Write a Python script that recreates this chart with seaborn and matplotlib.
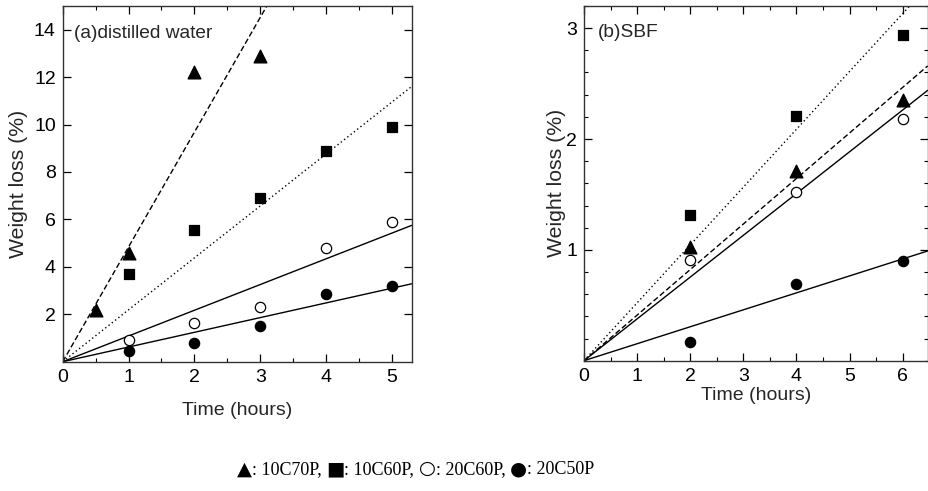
import matplotlib
matplotlib.use("Agg")
import matplotlib.pyplot as plt
import seaborn as sns
import numpy as np
import pandas as pd
from matplotlib.ticker import MultipleLocator, NullLocator
from matplotlib.offsetbox import TextArea, HPacker, AnchoredOffsetbox

sns.set_theme(style="ticks")
plt.rcParams['font.family'] = ['Liberation Sans', 'DejaVu Sans']

series = ["10C70P", "10C60P", "20C60P", "20C50P"]
legend_symbols = ["▲", "■", "○", "●"]

# Panel (a) distilled water
a_t_10C70P = [0.5, 1, 2, 3]
a_w_10C70P = [2.2, 4.6, 12.2, 12.9]
a_t_10C60P = [1, 2, 3, 4, 5]
a_w_10C60P = [3.7, 5.55, 6.9, 8.9, 9.9]
a_t_20C60P = [1, 2, 3, 4, 5]
a_w_20C60P = [0.9, 1.65, 2.3, 4.8, 5.9]
a_t_20C50P = [1, 2, 3, 4, 5]
a_w_20C50P = [0.45, 0.8, 1.5, 2.85, 3.2]
a_slopes = [4.84, 2.19, 1.085, 0.62]

# Panel (b) SBF
b_t = [2, 4, 6]
b_w_10C70P = [1.03, 1.71, 2.35]
b_w_10C60P = [1.31, 2.21, 2.94]
b_w_20C60P = [0.91, 1.52, 2.18]
b_w_20C50P = [0.17, 0.69, 0.90]
b_slopes = [0.411, 0.522, 0.377, 0.153]

markers = {"10C70P": "^", "10C60P": "s", "20C60P": "o", "20C50P": "o"}
faces = {"10C70P": "black", "10C60P": "black", "20C60P": "white", "20C50P": "black"}
sizes = {"10C70P": 85, "10C60P": 60, "20C60P": 55, "20C50P": 55}
lstyles = {"10C70P": (0, (4, 2)), "10C60P": (0, (1, 2)), "20C60P": "-", "20C50P": "-"}

fig = plt.figure(figsize=(9.29, 4.91), dpi=100)
axA = fig.add_axes([0.0675, 0.2633, 0.3757, 0.7245])
axB = fig.add_axes([0.6286, 0.2654, 0.3700, 0.7224])

def draw(ax, data, slopes, xmax, ymax, xpad, ypad):
    xs = np.linspace(0, xmax, 50)
    for name, slope in zip(series, slopes):
        df_l = pd.DataFrame({"t": xs, "w": slope * xs})
        sns.lineplot(data=df_l, x="t", y="w", ax=ax, color="black",
                     linewidth=1.0, linestyle=lstyles[name], zorder=2)
    for name in series:
        t, w = data[name]
        df = pd.DataFrame({"t": t, "w": w})
        sns.scatterplot(data=df, x="t", y="w", ax=ax, marker=markers[name],
                        s=sizes[name], color=faces[name], edgecolor="black",
                        linewidth=0.9, zorder=3)
    ax.set_xlim(0, xmax)
    ax.set_ylim(0, ymax)
    ax.set_xlabel("Time (hours)", fontsize=14, labelpad=xpad)
    ax.set_ylabel("Weight loss (%)", fontsize=15.3, labelpad=ypad)
    ax.tick_params(which="both", direction="in", top=True, right=True,
                   labelsize=14, colors="black")
    ax.tick_params(which="major", length=6, width=0.9, pad=5)
    ax.tick_params(which="minor", length=3, width=0.8)
    for s in ax.spines.values():
        s.set_linewidth(1.0)
        s.set_color("#333333")

dataA = {"10C70P": (a_t_10C70P, a_w_10C70P), "10C60P": (a_t_10C60P, a_w_10C60P),
         "20C60P": (a_t_20C60P, a_w_20C60P), "20C50P": (a_t_20C50P, a_w_20C50P)}
dataB = {"10C70P": (b_t, b_w_10C70P), "10C60P": (b_t, b_w_10C60P),
         "20C60P": (b_t, b_w_20C60P), "20C50P": (b_t, b_w_20C50P)}

draw(axA, dataA, a_slopes, 5.3, 15, xpad=12, ypad=4)
axA.set_xticks([0, 1, 2, 3, 4, 5])
axA.set_yticks([2, 4, 6, 8, 10, 12, 14])
axA.xaxis.set_minor_locator(MultipleLocator(0.5))
axA.yaxis.set_minor_locator(NullLocator())
axA.text(0.032, 0.924, "(a)distilled water", transform=axA.transAxes,
         fontsize=13.8, va="center")

draw(axB, dataB, b_slopes, 6.47, 3.2, xpad=2, ypad=0)
axB.set_xticks([0, 1, 2, 3, 4, 5, 6])
axB.set_yticks([1, 2, 3])
axB.xaxis.set_minor_locator(MultipleLocator(0.5))
axB.yaxis.set_minor_locator(MultipleLocator(0.2))
axB.text(0.04, 0.924, "(b)SBF", transform=axB.transAxes,
         fontsize=13.8, va="center")

# Bottom text legend
parts = []
for i, (sym, name) in enumerate(zip(legend_symbols, series)):
    sep = ", " if i < len(series) - 1 else ""
    parts.append(TextArea(sym, textprops=dict(fontsize=14, family="DejaVu Sans",
                                              color="black")))
    parts.append(TextArea(": " + name + sep,
                          textprops=dict(fontsize=13, family="Liberation Serif",
                                         color="black")))
box = HPacker(children=parts, align="baseline", pad=0, sep=0)
anch = AnchoredOffsetbox(loc="center", child=box, frameon=False,
                         bbox_to_anchor=(0.447, 0.045),
                         bbox_transform=fig.transFigure, borderpad=0)
fig.add_artist(anch)

fig.savefig("out.png", dpi=100)
